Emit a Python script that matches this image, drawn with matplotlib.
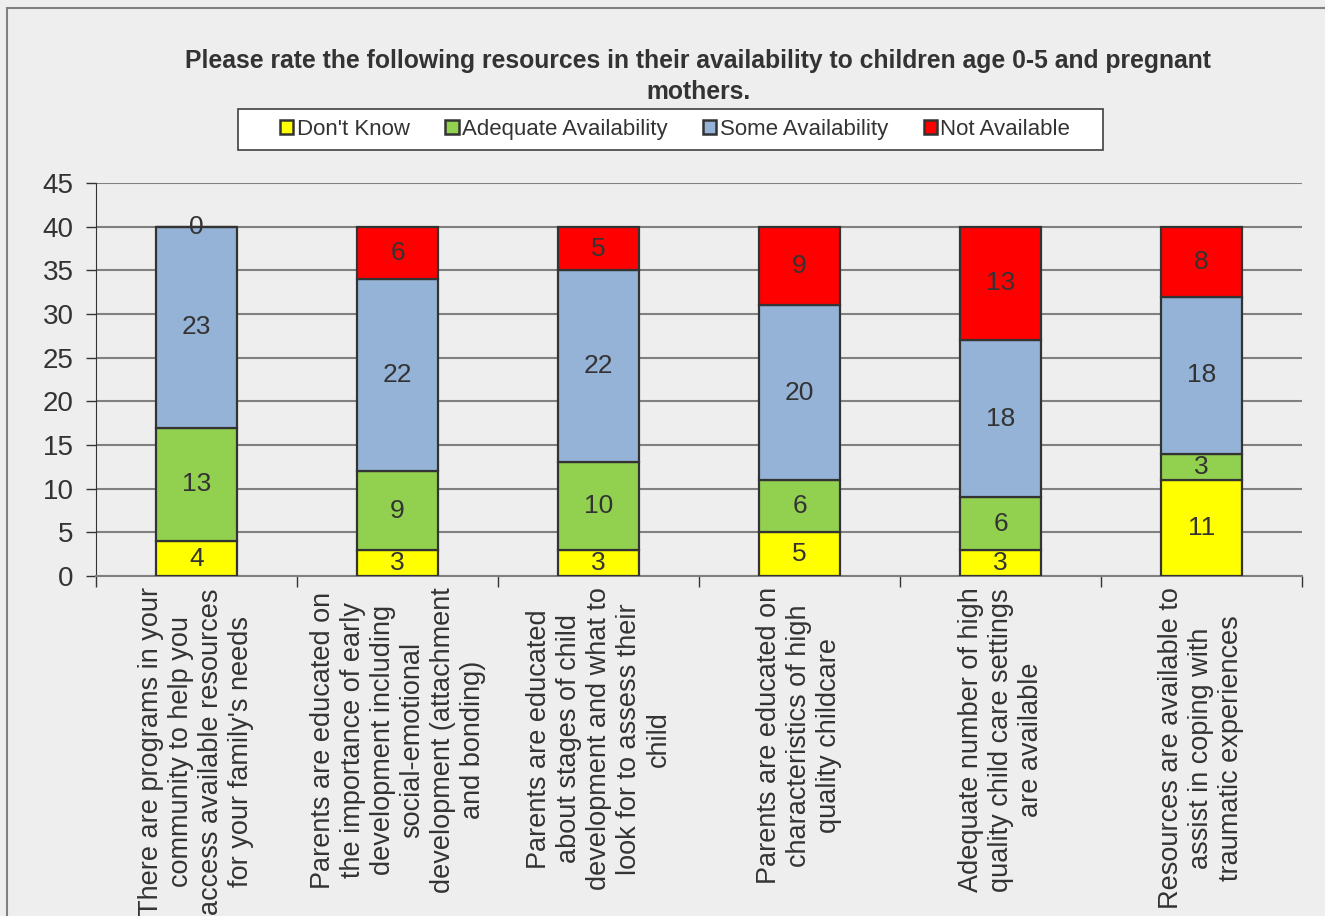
import matplotlib.pyplot as plt
import matplotlib.patches as mpatches
import numpy as np

plt.rcParams['font.family'] = ['Liberation Sans', 'DejaVu Sans']

# Survey categories (x axis) and stacked series
categories = [
    "There are programs in your\ncommunity to help you\naccess available resources\nfor your family's needs",
    "Parents are educated on\nthe importance of early\ndevelopment including\nsocial-emotional\ndevelopment (attachment\nand bonding)",
    "Parents are educated\nabout stages of child\ndevelopment and what to\nlook for to assess their\nchild",
    "Parents are educated on\ncharacteristics of high\nquality childcare",
    "Adequate number of high\nquality child care settings\nare available",
    "Resources are available to\nassist in coping with\ntraumatic experiences",
]
series_names = ["Don't Know", "Adequate Availability", "Some Availability", "Not Available"]
dont_know = [4, 3, 3, 5, 3, 11]
adequate = [13, 9, 10, 6, 6, 3]
some = [23, 22, 22, 20, 18, 18]
not_available = [0, 6, 5, 9, 13, 8]
yticks = [0, 5, 10, 15, 20, 25, 30, 35, 40, 45]

colors = ['#ffff00', '#92d050', '#95b3d7', '#ff0000']
text_color = '#333333'
bg = '#eeeeee'
W, H = 1325, 916


def main():
    fig = plt.figure(figsize=(W / 100, H / 100), dpi=100, facecolor=bg)
    ax = fig.add_axes([96 / W, 1 - 576 / H, (1302 - 96) / W, (576 - 183) / H])
    ax.set_facecolor(bg)

    # outer chart border (right/bottom edges fall outside the image)
    fig.patches.append(mpatches.Rectangle((7 / W, -0.1), 1.2, 1 - 8 / H + 0.1,
                                          transform=fig.transFigure, fill=False,
                                          edgecolor='#808080', linewidth=1.5))

    x = np.arange(len(categories))
    width = 0.4
    bottom = np.zeros(len(categories))
    data = [dont_know, adequate, some, not_available]
    for vals, name, c in zip(data, series_names, colors):
        vals = np.array(vals, dtype=float)
        ax.bar(x, vals, width, bottom=bottom, color=c, edgecolor='#333333',
               linewidth=1.6, label=name, zorder=3)
        for xi, b, v in zip(x, bottom, vals):
            ax.text(xi, b + v / 2, f'{int(v)}', ha='center', va='center',
                    fontsize=19, color=text_color, zorder=4)
        bottom += vals

    ax.set_xlim(-0.5, len(categories) - 0.5)
    ax.set_ylim(0, 45)
    ax.set_yticks(yticks)
    ax.tick_params(axis='y', labelsize=20, labelcolor=text_color, length=7,
                   width=1, color='#333333', direction='out', pad=9)
    ax.yaxis.grid(True, color='#808080', linewidth=1.5, zorder=0)

    ax.set_xticks(np.arange(len(categories) + 1) - 0.5)
    ax.set_xticklabels([])
    ax.tick_params(axis='x', length=8, width=1, color='#333333', direction='out')
    for xi, lab in zip(x, categories):
        ax.text(xi, -1.3, lab, rotation=90, ha='center', va='top',
                multialignment='center', fontsize=19.5, color=text_color,
                linespacing=1.2)

    for s in ['top', 'right']:
        ax.spines[s].set_visible(False)
    ax.spines['left'].set_color('#333333')
    ax.spines['bottom'].set_color('#808080')
    ax.spines['bottom'].set_linewidth(1.5)

    fig.text(698 / W, 1 - 76.5 / H,
             'Please rate the following resources in their availability to children age 0-5 and pregnant\nmothers.',
             ha='center', va='center', fontsize=17.8, fontweight='bold',
             color=text_color, linespacing=1.35)

    # legend box
    fig.patches.append(mpatches.Rectangle((238 / W, 1 - 150 / H), (1103 - 238) / W, 41 / H,
                                          transform=fig.transFigure, facecolor='white',
                                          edgecolor='#404040', linewidth=1.2))
    leg = fig.legend(loc='center', bbox_to_anchor=(675 / W, 1 - 129.5 / H), ncol=4,
                     fontsize=16, frameon=False,
                     handlelength=0.6, handleheight=0.6, handletextpad=0.15,
                     columnspacing=1.6, borderpad=0.2)
    for t in leg.get_texts():
        t.set_color(text_color)
    for h in leg.legend_handles:
        h.set_linewidth(1.8)

    fig.savefig('out.png', dpi=100, facecolor=bg)


if __name__ == '__main__':
    main()
